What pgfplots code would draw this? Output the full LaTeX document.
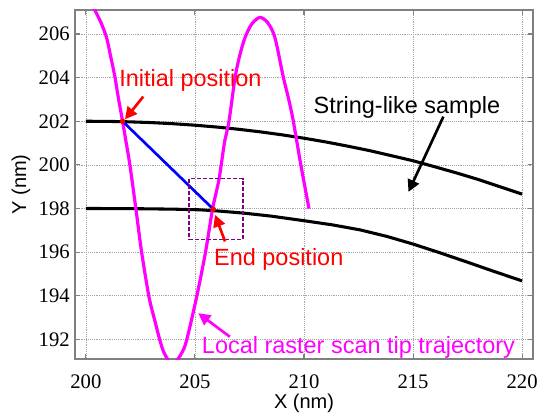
\documentclass[border=0pt]{standalone}
\usepackage{pgfplots}
\pgfplotsset{compat=1.18}
\usepackage{fontspec}
\setmainfont{Liberation Serif}
\newfontfamily\labelfont{Liberation Sans}
\usetikzlibrary{arrows.meta}
\definecolor{mag}{RGB}{255,0,255}
\definecolor{purp}{RGB}{128,0,128}
\definecolor{myred}{RGB}{255,0,0}
\begin{document}
\begin{tikzpicture}
\useasboundingbox (-56.25pt,-44.25pt) rectangle (347.25pt,269.25pt);
\begin{axis}[
  scale only axis, width=343.5pt, height=261.75pt,
  xmin=199.5, xmax=220.5, ymin=191.1, ymax=207.1,
  xtick={200,205,210,215,220}, ytick={192,194,196,198,200,202,204,206},
  grid=major, grid style={densely dotted, gray!70, line width=0.5pt},
  axis line style={gray, line width=0.8pt},
  tick align=inside, major tick length=4pt, tick style={gray, line width=0.8pt},
  /pgf/number format/assume math mode=true,
  tick label style={font=\rmfamily\fontsize{15.5}{15.5}\selectfont},
  xticklabel style={anchor=center, yshift=-17.25pt},
  yticklabel style={anchor=east, inner sep=0pt, xshift=-3.75pt},
  xlabel={X (nm)}, ylabel={Y (nm)},
  label style={font=\labelfont\fontsize{15}{18}\selectfont},
  xlabel style={at={(axis description cs:0.5,-0.126)}, anchor=center},
  ylabel style={at={(axis description cs:-0.118,0.5)}, anchor=center},
  clip mode=individual,
]
% string-like sample (upper and lower edges)
\addplot[black, line width=2.3pt] coordinates {
 (200,202.0) (201,201.994) (202,201.973) (203,201.938) (204,201.886) (205,201.818)
 (206,201.734) (207,201.632) (208,201.513) (209,201.376) (210,201.222) (211,201.051)
 (212,200.859) (213,200.655) (214,200.423) (215,200.189) (216,199.912) (217,199.628)
 (218,199.327) (219,198.994) (220,198.66)};
\addplot[black, line width=2.3pt] coordinates {
 (200,198.0) (202,197.995) (204,197.97) (205.23,197.94) (206,197.89) (207.22,197.79)
 (208.5,197.65) (210,197.44) (211.3,197.25) (212.57,197.02) (213.8,196.72) (215,196.37)
 (216.2,195.98) (217.46,195.55) (218.7,195.12) (220,194.68)};
% tip trajectory
\addplot[mag, line width=2.4pt, smooth] coordinates {
 (200.25,207.45) (200.41,207.1) (200.70,206.5) (200.95,205.82) (201.15,204.9)
 (201.33,204.03) (201.50,203.0) (201.68,202.0) (201.85,201.0) (202.02,199.97)
 (202.29,198.0) (202.55,196.03) (202.89,193.96) (203.15,192.9) (203.39,191.97)
 (203.60,191.35) (203.97,190.85) (204.38,191.35) (204.62,191.97)
 (205.08,193.96) (205.49,196.03) (205.81,198.0) (206.10,199.32) (206.35,201.0)
 (206.56,202.0) (206.84,204.0) (207.05,205.0) (207.29,205.82) (207.60,206.45)
 (207.98,206.76) (208.35,206.5) (208.67,205.82) (209.05,204.03) (209.30,203.0)
 (209.51,202.0) (209.86,199.97) (210.23,197.99)};
% tip path
\addplot[blue, line width=2pt] coordinates {(201.68,202.0) (205.84,197.97)};
% region box
\addplot[purp, line width=1.2pt, dash pattern=on 3pt off 1.5pt] coordinates {
 (204.74,196.57) (207.19,196.57) (207.19,199.37) (204.74,199.37) (204.74,196.57)};
% start and end points
\addplot[only marks, mark=*, mark size=1.8pt, myred] coordinates {(201.68,202.0) (205.84,197.97)};
% annotations
\draw[myred, line width=2pt, -{Triangle[length=9pt,width=9pt]}] (axis cs:202.63,203.13) -- (axis cs:201.79,202.09);
\draw[myred, line width=2pt, -{Triangle[length=9pt,width=9pt]}] (axis cs:206.38,196.49) -- (axis cs:205.92,197.71);
\draw[black, line width=2pt, -{Triangle[length=9pt,width=9pt]}] (axis cs:216.39,202.21) -- (axis cs:214.79,198.76);
\draw[mag, line width=2pt, -{Triangle[length=9pt,width=9pt]}] (axis cs:206.6,192.12) -- (axis cs:205.15,193.2);
\node[anchor=base west, inner sep=0pt, text=myred, font=\labelfont\fontsize{17.6}{20}\selectfont] at (axis cs:201.52,203.6) {Initial position};
\node[anchor=base west, inner sep=0pt, text=myred, font=\labelfont\fontsize{17.6}{20}\selectfont] at (axis cs:205.87,195.37) {End position};
\node[anchor=base west, inner sep=0pt, text=black, font=\labelfont\fontsize{17.6}{20}\selectfont] at (axis cs:210.43,202.37) {String-like sample};
\node[anchor=base west, inner sep=0pt, text=mag, font=\labelfont\fontsize{17.6}{20}\selectfont] at (axis cs:205.31,191.36) {Local raster scan tip trajectory};
\end{axis}
\end{tikzpicture}
\end{document}
